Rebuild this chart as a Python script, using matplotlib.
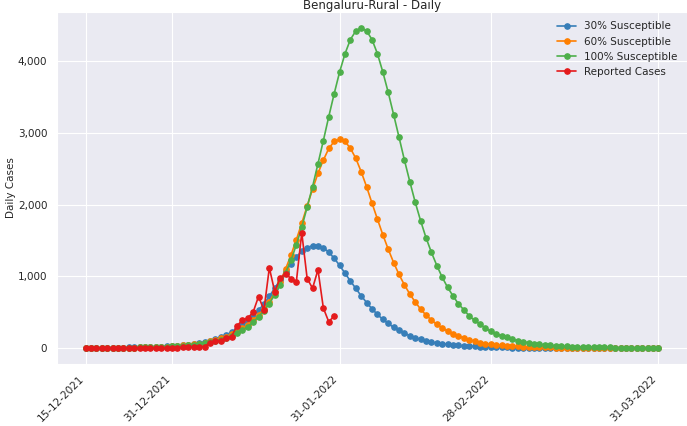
import matplotlib
matplotlib.use("Agg")
import matplotlib.pyplot as plt
import matplotlib.dates as mdates
import matplotlib.ticker as mticker
import pandas as pd
import seaborn as sns

# daily model curves, 15-12-2021 .. 31-03-2022
dates = pd.date_range("2021-12-15", "2022-03-31", freq="D")

sus_30 = [2, 2, 3, 3, 4, 4, 5, 6, 7, 8,
          9, 11, 13, 16, 19, 23, 27, 33, 40, 48,
          58, 70, 84, 103, 125, 150, 180, 222, 270, 315,
          375, 445, 525, 612, 722, 833, 949, 1070, 1170, 1270,
          1350, 1400, 1426, 1428, 1394, 1338, 1250, 1153, 1042, 935,
          830, 727, 634, 546, 468, 398, 343, 287, 245, 204,
          171, 143, 120, 97, 83, 70, 60, 51, 44, 37,
          31, 26, 22, 18, 15, 13, 11, 9, 8, 6,
          5, 4, 4, 3, 3, 2, 2, 2, 1, 1,
          1, 1, 1, 1, 0, 0, 0, 0, 0, 0,
          0, 0, 0, 0, 0, 0, 0]

sus_60 = [1, 2, 2, 2, 3, 3, 4, 4, 5, 6,
          8, 9, 11, 13, 16, 20, 24, 29, 35, 42,
          51, 62, 75, 91, 110, 133, 160, 192, 230, 274,
          326, 388, 460, 545, 645, 775, 925, 1100, 1295, 1510,
          1740, 1980, 2215, 2435, 2620, 2782, 2880, 2910, 2880, 2785,
          2645, 2458, 2248, 2020, 1798, 1580, 1378, 1192, 1025, 880,
          752, 641, 542, 458, 391, 328, 280, 234, 200, 167,
          141, 115, 95, 76, 62, 51, 43, 37, 31, 26,
          22, 18, 15, 12, 10, 8, 7, 6, 5, 4,
          3, 3, 2, 2, 2, 1, 1, 1, 1, 1,
          0, 0, 0, 0, 0, 0, 0]

sus_100 = [1, 2, 2, 2, 3, 3, 4, 4, 5, 6,
           8, 9, 11, 13, 16, 19, 23, 27, 33, 39,
           47, 57, 68, 82, 98, 118, 142, 170, 204, 250,
           296, 358, 437, 522, 618, 745, 885, 1051, 1222, 1440,
           1685, 1965, 2250, 2569, 2893, 3227, 3546, 3847, 4102, 4301,
           4421, 4462, 4421, 4301, 4105, 3850, 3565, 3255, 2940, 2620,
           2319, 2032, 1773, 1537, 1333, 1150, 985, 845, 725, 615,
           532, 447, 385, 331, 276, 232, 194, 171, 148, 120,
           102, 88, 72, 60, 51, 46, 37, 32, 28, 24,
           20, 18, 15, 13, 11, 9, 8, 7, 6, 5,
           4, 4, 3, 3, 2, 2, 2]

# reported cases stop at 30-01-2022
reported = [0, 0, 0, 0, 0, 0, 0, 0, 1, 0,
            1, 2, 1, 2, 3, 3, 4, 5, 8, 10,
            12, 18, 20, 75, 103, 95, 137, 160, 308, 389,
            417, 500, 718, 530, 1118, 785, 972, 1037, 968, 926,
            1607, 968, 833, 1090, 556, 365, 449]

tick_dates = ["2021-12-15", "2021-12-31", "2022-01-31", "2022-02-28", "2022-03-31"]

sns.set_style("darkgrid")
plt.rcParams["font.family"] = ["DejaVu Sans"]

fig = plt.figure(figsize=(6.87, 4.26), dpi=100)
ax = fig.add_axes([57 / 687, 62 / 426, 630 / 687, 352 / 426])

ax.plot(dates, sus_30, marker="o", ms=3.8, lw=1.2, color="#377eb8", label="30% Susceptible")
ax.plot(dates, sus_60, marker="o", ms=3.8, lw=1.2, color="#ff7f00", label="60% Susceptible")
ax.plot(dates, sus_100, marker="o", ms=3.8, lw=1.2, color="#4daf4a", label="100% Susceptible")
ax.plot(dates[:len(reported)], reported, marker="o", ms=3.8, lw=1.2, color="#e41a1c",
        label="Reported Cases")

ax.set_xticks(pd.to_datetime(tick_dates))
ax.xaxis.set_major_formatter(mdates.DateFormatter("%d-%m-%Y"))
plt.setp(ax.get_xticklabels(), rotation=45, ha="right", fontsize=7.5)
ax.yaxis.set_major_formatter(mticker.FuncFormatter(lambda v, p: f"{int(v):,}"))
ax.tick_params(axis="y", labelsize=7.5)
ax.set_ylabel("Daily Cases", fontsize=7.5, labelpad=1)
ax.set_title("Bengaluru-Rural - Daily", fontsize=8.5, pad=2)
ax.legend(loc="upper right", frameon=False, fontsize=7.5, handlelength=1.8)

fig.savefig("out.png", dpi=100)
